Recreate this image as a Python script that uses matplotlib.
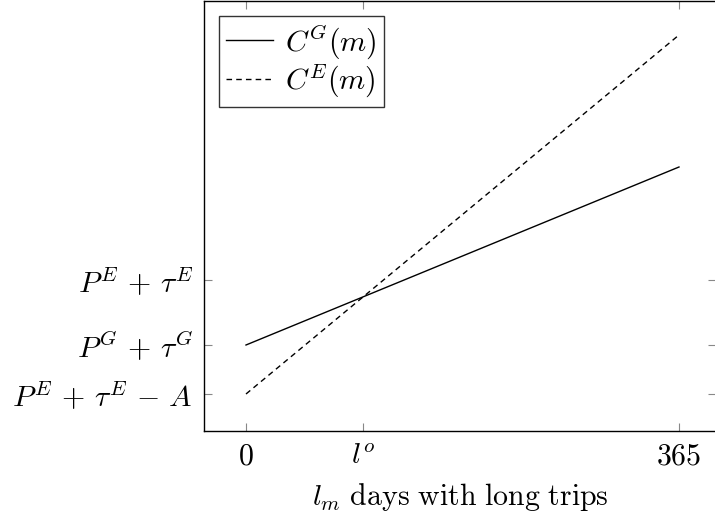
import matplotlib.pyplot as plt
import numpy as np

plt.rcParams['mathtext.fontset'] = 'cm'
plt.rcParams['font.family'] = 'serif'
plt.rcParams['font.serif'] = ['DejaVu Serif']

# days with long trips
days = [0, 365]
l_o = 99
# cost curves (arbitrary units)
cost_G = [49, 227]
cost_E = [0, 359]

xtick_vals = [0, l_o, 365]
xtick_labels = [r'$0$', r'$l^o$', r'$365$']
ytick_vals = [0, 49, 114]
ytick_labels = [r'$P^E\,+\,\tau^E\,-\,A$', r'$P^G\,+\,\tau^G$', r'$P^E\,+\,\tau^E$']

fs = 21.5
fig = plt.figure(figsize=(7.15, 5.2), dpi=100)
ax = fig.add_axes([204/715, (520-431)/520, (716-204)/715, 430/520])

ax.plot(days, cost_G, color='black', lw=1.0, label=r'$C^G(m)$')
ax.plot(days, cost_E, color='black', lw=1.0, ls=(0, (4, 3)), label=r'$C^E(m)$')

ax.set_xlim(-35.4, 396.2)
ax.set_ylim(-37, 393)

ax.set_xticks(xtick_vals)
ax.set_xticklabels(xtick_labels, fontsize=fs)
ax.set_yticks(ytick_vals)
ax.set_yticklabels(ytick_labels, fontsize=fs)
ax.tick_params(direction='in', length=6, color='#888888', width=0.8,
               top=True, right=True, pad=8)
for s in ax.spines.values():
    s.set_linewidth(1.0)

ax.set_xlabel(r'$l_m\ \mathrm{days\ with\ long\ trips}$', fontsize=fs, labelpad=8)

leg = ax.legend(loc='upper left', fontsize=fs, frameon=True, fancybox=False,
                borderaxespad=0.5, handlelength=1.55, handletextpad=0.4,
                borderpad=0.25, labelspacing=0.05)
leg.get_frame().set_edgecolor('black')
leg.get_frame().set_linewidth(1.0)

fig.savefig('out.png', dpi=100)
